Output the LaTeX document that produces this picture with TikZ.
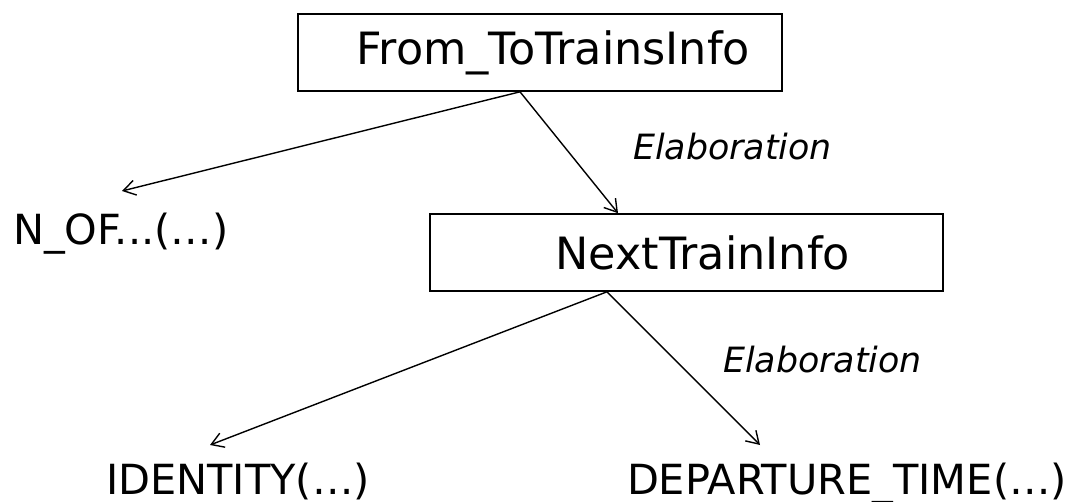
\documentclass[tikz,border=0pt]{standalone}
\usepackage{fontspec}
\setmainfont{DejaVu Sans}
\usetikzlibrary{arrows.meta}
\begin{document}
\begin{tikzpicture}[x=1pt,y=-1pt,
  box/.style={draw, line width=1.6pt, inner ysep=0pt, align=right,
    font=\fontsize{44.5}{52}\selectfont},
  leaf/.style={inner sep=0pt, font=\fontsize{41.5}{48}\selectfont},
  rel/.style={inner sep=0pt, font=\fontsize{34.8}{40}\selectfont\itshape},
  arr/.style={line width=1.4pt, -{Straight Barb[length=12pt,width=15pt]}}]
\useasboundingbox (0,0) rectangle (1079,502);
% boxes
\node[box, inner xsep=32pt, text width=420pt, minimum height=77pt]
  (top) at (540,52.5) {From\_ToTrainsInfo};
\node[box, inner xsep=93pt, text width=327pt, minimum height=77pt]
  (next) at (686.5,252.5) {NextTrainInfo};
% leaves
\node[leaf, anchor=base west] (nof) at (13,245) {N\_OF...(…)};
\node[leaf, anchor=base east] (ident) at (370,494) {IDENTITY(…)};
\node[leaf, anchor=base east] (dep) at (1067,494) {DEPARTURE\_TIME(…)};
% relation labels
\node[rel, anchor=base west] (el1) at (633,160) {Elaboration};
\node[rel, anchor=base west] (el2) at (723,373) {Elaboration};
% connectors
\draw[arr] ([xshift=-20pt]top.south) -- ([xshift=109pt,yshift=54pt]nof.base west);
\draw[arr] ([xshift=-20pt]top.south) -- ([xshift=-68.5pt]next.north);
\draw[arr] ([xshift=-79.5pt]next.south) -- ([xshift=-160pt,yshift=49pt]ident.base east);
\draw[arr] ([xshift=-79.5pt]next.south) -- ([xshift=-307pt,yshift=49pt]dep.base east);
\end{tikzpicture}
\end{document}
